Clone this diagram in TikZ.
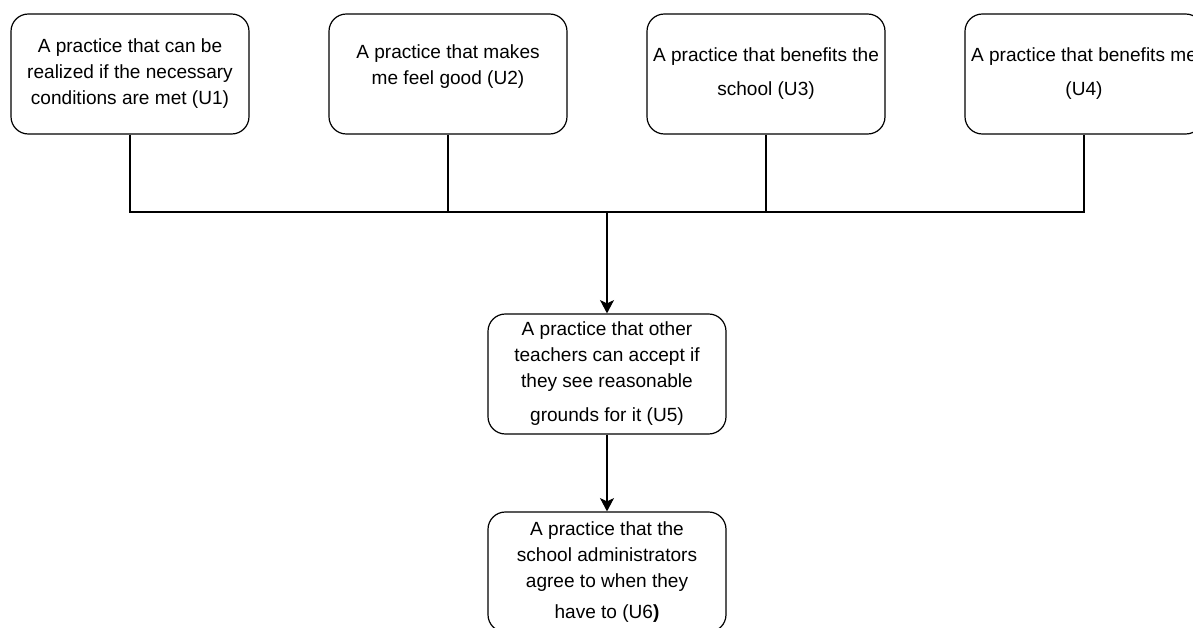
\documentclass[tikz,border=0pt]{standalone}
\usepackage{fontspec}
\setmainfont{Liberation Sans}
\usetikzlibrary{arrows.meta}
\tikzset{
    unit/.style={draw, rounded corners=13pt, line width=0.9pt, minimum width=178.5pt, minimum height=90pt, inner sep=0pt, align=center, font=\fontsize{14.3}{19.5}\selectfont},
    link/.style={line width=0.9pt},
    flow/.style={line width=0.9pt, -{Stealth[length=10pt, width=10.5pt, inset=2.5pt]}}
}
\begin{document}
\begin{tikzpicture}[x=0.75pt, y=-0.75pt]
                \useasboundingbox (0,0) rectangle (1193,628);
                \node[unit] (u1) at (130,74) {A practice that can be\\realized if the necessary\\conditions are met (U1)};
                \node[unit] (u2) at (448,74) {A practice that makes\\me feel good (U2)\\[-6pt]};
                \node[unit] (u3) at (766,74) {A practice that benefits the\\[6pt]school (U3)};
                \node[unit] (u4) at (1084,74) {\\[-10pt]A practice that benefits me\\[6pt](U4)};
                \node[unit] (u5) at (607,374) {A practice that other\\teachers can accept if\\they see reasonable\\[6pt]grounds for it (U5)};
                \node[unit] (u6) at (607,572) {A practice that the\\school administrators\\agree to when they\\[4pt]have to (U6{\bfseries )}};
                \coordinate (bus) at (607,212);
                \draw[link] (u1) |- (bus) -| (u4);
                \draw[link] (u2) -- (u2 |- bus);
                \draw[link] (u3) -- (u3 |- bus);
                \draw[flow] (bus) -- (u5);
                \draw[flow] (u5) -- (u6);
            \end{tikzpicture}
\end{document}
